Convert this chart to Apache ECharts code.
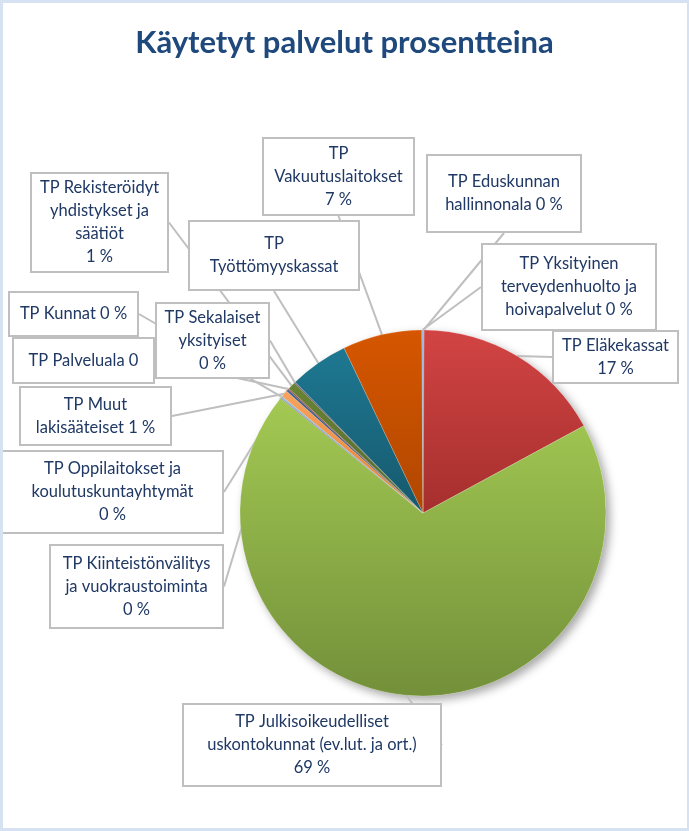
<!DOCTYPE html>
<html><head><meta charset="utf-8">
<script src="https://cdn.jsdelivr.net/npm/echarts@6/dist/echarts.min.js"></script>
<style>
html,body{margin:0;padding:0;background:#fff}
#main{position:absolute;left:0;top:0;width:689px;height:831px}
#frame{position:absolute;left:0;top:0;width:689px;height:831px;box-sizing:border-box;border:3px solid #d6e2f2;border-right-width:2px;pointer-events:none}
</style></head><body><div id="main"></div><div id="frame"></div>
<script>
const titleText = 'Käytetyt palvelut prosentteina';
const categories = [
  'TP Eduskunnan hallinnonala',
  'TP Eläkekassat',
  'TP Julkisoikeudelliset uskontokunnat (ev.lut. ja ort.)',
  'TP Kiinteistönvälitys ja vuokraustoiminta',
  'TP Kunnat',
  'TP Muut lakisääteiset',
  'TP Oppilaitokset ja koulutuskuntayhtymät',
  'TP Palveluala',
  'TP Rekisteröidyt yhdistykset ja säätiöt',
  'TP Sekalaiset yksityiset',
  'TP Työttömyyskassat',
  'TP Vakuutuslaitokset',
  'TP Yksityinen terveydenhuolto ja hoivapalvelut'
];
const values = [0.1, 17.0, 68.7, 0.1, 0.1, 0.6, 0.2, 0.1, 0.7, 0.1, 5.2, 7.0, 0.1];
const labelTemplates = [
  'TP Eduskunnan\nhallinnonala {p} %',
  'TP Eläkekassat\n{p} %',
  'TP Julkisoikeudelliset\nuskontokunnat (ev.lut. ja ort.)\n{p} %',
  'TP Kiinteistönvälitys\nja vuokraustoiminta\n{p} %',
  'TP Kunnat {p} %',
  'TP Muut\nlakisääteiset {p} %',
  'TP Oppilaitokset ja\nkoulutuskuntayhtymät\n{p} %',
  'TP Palveluala {p}',
  'TP Rekisteröidyt\nyhdistykset ja\nsäätiöt\n{p} %',
  'TP Sekalaiset\nyksityiset\n{p} %',
  'TP\nTyöttömyyskassat',
  'TP\nVakuutuslaitokset\n{p} %',
  'TP Yksityinen\nterveydenhuolto ja\nhoivapalvelut {p} %'
];

// styling / layout (not data)
const colorTop = ['#7ea6d8','#d24444','#a3c953','#9b82bd','#6cc3da','#f9a35e','#3b6294','#933836','#6a8435','#5f4a78','#1e7892','#d65600','#8fb0da'];
const colorBottom = ['#4f81bd','#a52f2d','#73903a','#6a5190','#3a9ab4','#e07f30','#24416a','#662624','#53672a','#433456','#16596d','#b04700','#6f94c4'];
// label box: center x, center y, width, height
const labelBoxes = [
  [504, 193.5, 154, 77],
  [615.5, 357, 125, 52],
  [312, 745, 258, 82],
  [136.5, 586.5, 173, 83],
  [73.5, 314, 129, 44],
  [95.5, 416, 151, 58],
  [112.5, 492, 221, 82],
  [83.5, 360.5, 141, 45],
  [99.5, 222.5, 137, 99],
  [212.5, 340.5, 113, 75],
  [274, 255.5, 170, 69],
  [338.5, 176.5, 151, 77],
  [569, 287, 174, 86]
];

function grad(a, b) {
  return new echarts.graphic.LinearGradient(0, 0, 0, 1, [
    {offset: 0, color: a}, {offset: 1, color: b}
  ]);
}

const pieData = categories.map((name, i) => ({
  name: name,
  value: values[i],
  itemStyle: {color: grad(colorTop[i], colorBottom[i])},
  label: {width: labelBoxes[i][2] - 2, height: labelBoxes[i][3] - 2}
}));
const shadowData = categories.map((name, i) => ({name: name, value: values[i]}));

const chart = echarts.init(document.getElementById('main'), null, {renderer: 'canvas'});
chart.setOption({
  backgroundColor: '#ffffff',
  animation: false,
  title: {
    text: titleText,
    left: 'center',
    top: 22,
    textStyle: {fontFamily: 'Lato', fontWeight: 'bold', fontSize: 31, color: '#1f497d'}
  },
  series: [
    {
      type: 'pie',
      silent: true,
      z: 1,
      center: [423, 513],
      radius: 183,
      startAngle: 90,
      clockwise: true,
      avoidLabelOverlap: false,
      label: {show: false},
      labelLine: {show: false},
      itemStyle: {color: '#ffffff', shadowBlur: 10, shadowOffsetX: 4, shadowOffsetY: 4, shadowColor: 'rgba(0,0,0,0.35)'},
      data: shadowData
    },
    {
      type: 'pie',
      z: 2,
      center: [423, 513],
      radius: 183,
      startAngle: 90,
      clockwise: true,
      avoidLabelOverlap: false,
      minShowLabelAngle: 0,
      itemStyle: {borderColor: 'rgba(255,255,255,0.35)', borderWidth: 0.5},
      label: {
        show: true,
        position: 'outside',
        overflow: 'none',
        formatter: p => labelTemplates[p.dataIndex].replace('{p}', Math.round(p.percent)),
        fontFamily: 'Lato',
        fontSize: 16.5,
        lineHeight: 23,
        color: '#1f3864',
        align: 'center',
        backgroundColor: '#ffffff',
        borderColor: '#bfbfbf',
        borderWidth: 2,
        padding: 0
      },
      labelLine: {show: true, length: 10, length2: 0, smooth: false, lineStyle: {color: '#bfbfbf', width: 2}},
      labelLayout: function (params) {
        const b = labelBoxes[params.dataIndex];
        return {x: b[0], y: b[1], align: 'center', verticalAlign: 'middle'};
      },
      data: pieData
    }
  ]
});
</script></body></html>
